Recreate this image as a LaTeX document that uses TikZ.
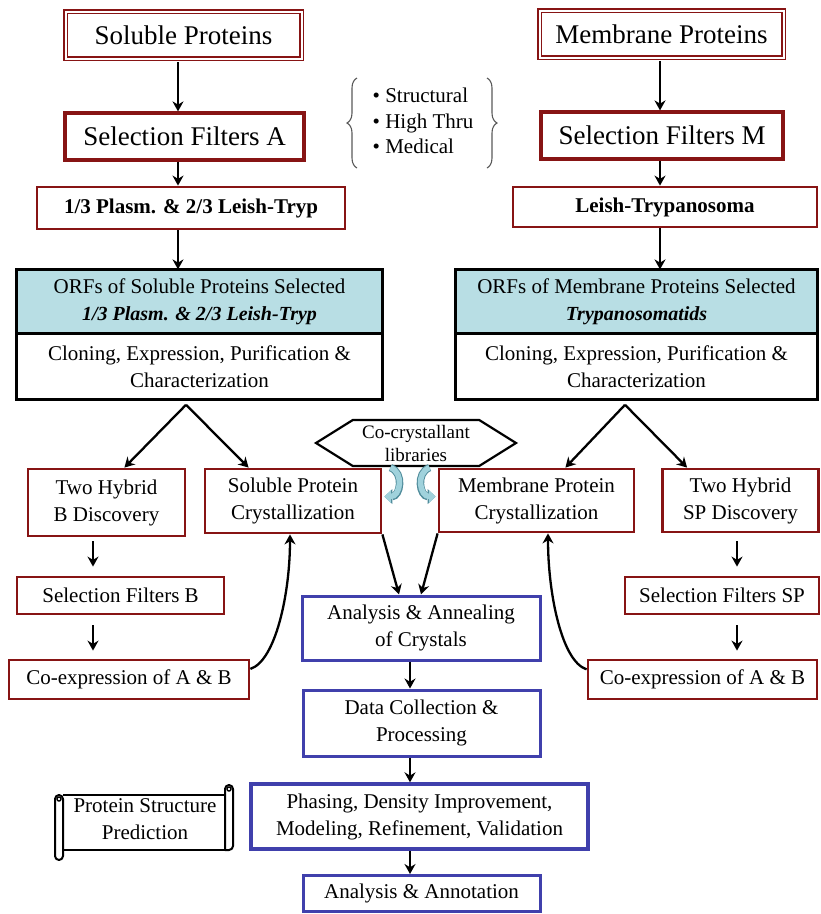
\documentclass[tikz,border=0pt]{standalone}
\usepackage{fontspec}
\setmainfont{Liberation Serif}
\usetikzlibrary{arrows.meta,shapes.symbols,decorations.pathreplacing}

\definecolor{boxred}{RGB}{135,20,20}
\definecolor{boxblue}{RGB}{64,64,172}
\definecolor{orfcyan}{RGB}{184,222,228}
\definecolor{curlfill}{RGB}{160,210,220}
\definecolor{curledge}{RGB}{80,140,155}

\newcommand{\headfont}{\fontsize{27}{32}\selectfont}
\newcommand{\tagfont}{\fontsize{21}{24}\selectfont\bfseries}
\newcommand{\boxfont}{\fontsize{21}{27}\selectfont}
\newcommand{\hexfont}{\fontsize{19}{23}\selectfont}

\begin{document}
\begin{tikzpicture}[x=1pt,y=-1pt,
  headbox/.style={draw=boxred, line width=1.6pt, double=white, double distance=2pt, font=\headfont},
  filtbox/.style={draw=boxred, line width=3.2pt, font=\headfont},
  orgbox/.style={draw=boxred, line width=2.8pt, font=\tagfont},
  redbox/.style={draw=boxred, line width=2.8pt, font=\boxfont, align=center},
  bluebox/.style={draw=boxblue, line width=3pt, fill=white, font=\boxfont, align=center},
  orfhead/.style={draw, line width=1.2pt, fill=orfcyan, minimum height=63, font=\boxfont, align=center},
  orfbody/.style={draw, line width=1.2pt, fill=white, minimum height=65, font=\boxfont, align=center},
  orfframe/.style={line width=3.2pt},
  hexbox/.style={shape=signal, signal to=east and west, signal pointer angle=64, draw, fill=white,
    line width=2.2pt, minimum width=200, minimum height=46, inner sep=1pt, font=\hexfont, align=center},
  arr/.style={-{Stealth[length=10pt,width=11pt]}, line width=2.3pt},
  curl/.style={line width=5.5pt, draw=curlfill, -{Triangle[length=6.5pt,width=12pt]},
    preaction={draw=curledge, line width=7.5pt, -{Triangle[length=8pt,width=14.5pt]}}},
  scrl/.style={line width=2pt, fill=white, line join=round},
  brc/.style={decorate, decoration={brace, amplitude=10pt}, line width=1.1pt, draw=black!65}]
\useasboundingbox (0,0) rectangle (821,914);

% sources:
\node[headbox, minimum width=236, minimum height=47] (sol) at (183.5,35) {Soluble Proteins};
\node[headbox, minimum width=244, minimum height=47] (mem) at (661.5,34) {Membrane Proteins};
% filters:
\node[filtbox, minimum width=239, minimum height=47] (selA) at (184.5,136.5) {Selection Filters A};
\node[filtbox, minimum width=242, minimum height=47] (selM) at (662,135.5) {Selection Filters M};
\node[font=\fontsize{21}{25.5}\selectfont, align=left] (crit) at (423,121)
  {\textbullet\ Structural\\ \textbullet\ High Thru\\ \textbullet\ Medical};
\draw[brc] (357,168) -- (357,78);
\draw[brc] (487,78) -- (487,168);
% organisms:
\node[orgbox, minimum width=308, minimum height=42] (plasm) at (191,208) {1/3 Plasm. \& 2/3 Leish-Tryp};
\node[orgbox, minimum width=304, minimum height=40] (leish) at (665,207) {Leish-Trypanosoma};

% ORF boxes:
\node[orfhead, minimum width=365] (orfS) at (199.5,301.5)
  {ORFs of Soluble Proteins Selected\\{\fontsize{20}{27}\selectfont\bfseries\itshape 1/3 Plasm. \& 2/3 Leish-Tryp}};
\node[orfbody, minimum width=365, anchor=north] (clonS) at (orfS.south)
  {Cloning, Expression, Purification \&\\Characterization};
\draw[orfframe] (orfS.north west) rectangle (clonS.south east);
\node[orfhead, minimum width=361] (orfM) at (636.5,301.5)
  {ORFs of Membrane Proteins Selected\\{\fontsize{20}{27}\selectfont\bfseries\itshape Trypanosomatids}};
\node[orfbody, minimum width=361, anchor=north] (clonM) at (orfM.south)
  {Cloning, Expression, Purification \&\\Characterization};
\draw[orfframe] (orfM.north west) rectangle (clonM.south east);

% crystallization row:
\node[redbox, minimum width=157, minimum height=67] (thb) at (106.5,502.5) {Two Hybrid\\B Discovery};
\node[redbox, minimum width=176, minimum height=64] (solc) at (293,501) {Soluble Protein\\Crystallization};
\node[redbox, minimum width=195, minimum height=63] (memc) at (536.5,500.5) {Membrane Protein\\Crystallization};
\node[redbox, minimum width=156, minimum height=63] (thsp) at (740.5,500.5) {Two Hybrid\\SP Discovery};
\node[hexbox] (cocry) at (416,443) {Co-crystallant\\libraries};
\node[redbox, minimum width=207, minimum height=37] (selB) at (120.5,595.5) {Selection Filters B};
\node[redbox, minimum width=194, minimum height=37] (selSP) at (722,595.5) {Selection Filters SP};
\node[redbox, minimum width=240, minimum height=39] (coB) at (129,679.5) {Co-expression of A \& B};
\node[redbox, minimum width=229, minimum height=39] (coSP) at (702.5,679.5) {Co-expression of A \& B};

% structure pipeline:
\node[bluebox, minimum width=238, minimum height=64] (anC) at (421,628) {Analysis \& Annealing\\of Crystals};
\node[bluebox, minimum width=237, minimum height=66] (dcp) at (421.5,723) {Data Collection \&\\Processing};
\node[bluebox, line width=3.4pt, minimum width=337, minimum height=65] (phas) at (419.5,816.5)
  {Phasing, Density Improvement,\\Modeling, Refinement, Validation};
\node[bluebox, minimum width=237, minimum height=36] (annot) at (421.5,893.5) {Analysis \& Annotation};

% scroll:
\fill[white] (63,795) rectangle (225,850);
\draw[scrl] (63,795) -- (225,795) (63,850) -- (225,850);
\draw[scrl] (225,850) -- (225,789) arc[start angle=180, end angle=360, radius=4] -- (233,846)
  arc[start angle=0, end angle=90, radius=4] -- cycle;
\draw[line width=1.4pt] (229,789) circle[radius=2];
\draw[scrl] (55,799) arc[start angle=180, end angle=360, radius=4] -- (63,856)
  arc[start angle=0, end angle=180, radius=4] -- cycle;
\draw[line width=1.4pt] (59,799) circle[radius=2];
\node[font=\boxfont, align=center] (psp) at (145,819) {Protein Structure\\Prediction};

% top arrows:
\draw[arr, shorten <=3pt] ([xshift=-5.5pt]sol.south) -- ([xshift=-6.5pt]selA.north);
\draw[arr] ([xshift=-6.5pt]selA.south) -- ([xshift=-13pt]plasm.north);
\draw[arr] ([xshift=-13pt]plasm.south) -- ([xshift=-21.5pt]orfS.north);
\draw[arr, shorten <=3pt] ([xshift=-1.5pt]mem.south) -- ([xshift=-2pt]selM.north);
\draw[arr] ([xshift=-2pt]selM.south) -- ([xshift=-5pt]leish.north);
\draw[arr] ([xshift=-5pt]leish.south) -- ([xshift=23.5pt]orfM.north);

% forks:
\coordinate (forkS) at ([xshift=-13.5pt, yshift=-5pt]clonS.south);
\draw[arr] (forkS) -- ([xshift=-62pt]thb.north east);
\draw[arr] (forkS) -- ([xshift=45pt]solc.north west);
\coordinate (forkM) at ([xshift=-11.5pt, yshift=-5pt]clonM.south);
\draw[arr] (forkM) -- ([xshift=-70pt]memc.north east);
\draw[arr] (forkM) -- ([xshift=26pt]thsp.north west);

% libraries into both crystallizations
\draw[curl] ([xshift=8pt]solc.north east) .. controls +(14,5) and +(16,0) .. ([xshift=2pt,yshift=-29pt]solc.north east);
\draw[curl] ([xshift=-8pt]memc.north west) .. controls +(-14,5) and +(-16,0) .. ([xshift=-2pt,yshift=-29pt]memc.north west);

% side branches:
\draw[arr, shorten <=4pt, shorten >=9pt] ([xshift=-13.5pt]thb.south) -- ([xshift=-27.5pt]selB.north);
\draw[arr, shorten <=10pt, shorten >=8pt] ([xshift=-27.5pt]selB.south) -- ([xshift=-36pt]coB.north);
\draw[arr, shorten <=8pt, shorten >=9pt] ([xshift=-3.5pt]thsp.south) -- ([xshift=15pt]selSP.north);
\draw[arr, shorten <=10pt, shorten >=8pt] ([xshift=15pt]selSP.south) -- ([xshift=34.5pt]coSP.north);
\draw[arr] (coB.5) .. controls +(25,-8) and +(0,60) .. ([xshift=-3pt]solc.south);
\draw[arr] (coSP.175) .. controls +(-25,-8) and +(0,60) .. ([xshift=11.5pt]memc.south);

% down the pipeline:
\draw[arr] (solc.south east) -- ([xshift=-22pt]anC.north);
\draw[arr] (memc.south west) -- (anC.north);
\draw[arr] ([xshift=-11pt]anC.south) -- ([xshift=-11.5pt]dcp.north);
\draw[arr] ([xshift=-11.5pt]dcp.south) -- ([xshift=-9.5pt]phas.north);
\draw[arr] ([xshift=-9.5pt]phas.south) -- ([xshift=-11.5pt]annot.north);
\end{tikzpicture}
\end{document}
